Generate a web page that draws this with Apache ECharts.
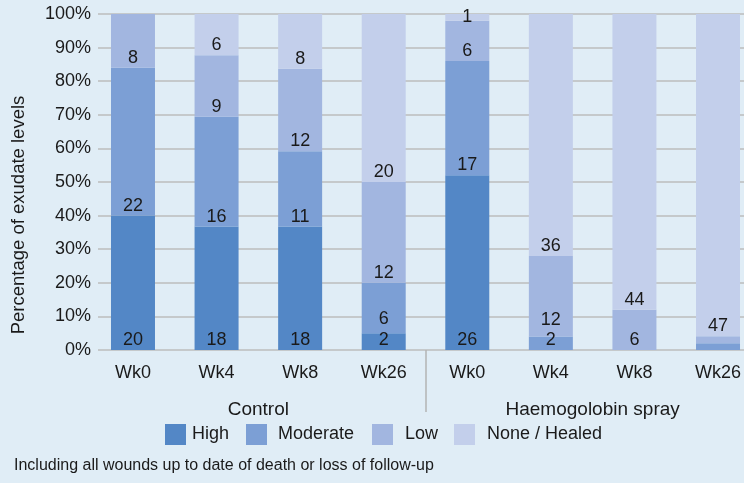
<!DOCTYPE html>
<html>
<head>
<meta charset="utf-8">
<script src="https://cdn.jsdelivr.net/npm/echarts@6/dist/echarts.min.js"></script>
<style>
  html, body { margin: 0; padding: 0; background: #e0edf6; }
  #chart { width: 744px; height: 483px; }
</style>
</head>
<body>
<div id="chart"></div>
<script>
// Visit labels along the bottom, split into two treatment groups
const categories = ['Wk0', 'Wk4', 'Wk8', 'Wk26', 'Wk0', 'Wk4', 'Wk8', 'Wk26'];
const groups = ['Control', 'Haemogolobin spray'];

// Wound counts per exudate level at each visit
const high     = [20, 18, 18, 2, 26, 0, 0, 0];
const moderate = [22, 16, 11, 6, 17, 2, 0, 1];
const low      = [8, 9, 12, 12, 6, 12, 6, 1];
const none     = [0, 6, 8, 20, 1, 36, 44, 47];

const yTicks = [0, 10, 20, 30, 40, 50, 60, 70, 80, 90, 100];

const FONT = '"Liberation Sans", Arial, sans-serif';
const INK = '#1a1a1a';
const FS = 18;

// hide: slivers left unlabelled; nudge: vertical label shifts that keep
// labels on thin segments clear of their neighbours and of the plot top
const levels = [
  { name: 'High', counts: high, color: '#5387c6', hide: [], nudge: {} },
  { name: 'Moderate', counts: moderate, color: '#7c9fd5', hide: [7], nudge: { 3: -4 } },
  { name: 'Low', counts: low, color: '#a2b6e0', hide: [7], nudge: { 5: -7 } },
  { name: 'None / Healed', counts: none, color: '#c3cfeb', hide: [], nudge: { 4: 6 } }
];

const totals = categories.map((_, i) =>
  levels.reduce((s, l) => s + l.counts[i], 0));

const series = levels.map(l => ({
  name: l.name,
  type: 'bar',
  stack: 'share',
  xAxisIndex: 1,
  yAxisIndex: 1,
  barWidth: 44,
  itemStyle: { color: l.color },
  label: {
    show: true,
    position: 'insideBottom',
    distance: 1,
    color: INK,
    fontFamily: FONT,
    fontSize: FS,
    formatter: p => (l.counts[p.dataIndex] ? String(l.counts[p.dataIndex]) : '')
  },
  data: l.counts.map((c, i) => {
    const item = { value: c / totals[i] * 100 };
    if (l.hide.includes(i)) item.label = { show: false };
    if (l.nudge[i]) item.label = { offset: [0, l.nudge[i]] };
    return item;
  })
}));

// Separator between the two groups, drawn as the middle split line of a
// hidden 0..8 slot axis that sits just under the plot.
series.push({
  type: 'line', xAxisIndex: 2, yAxisIndex: 2, data: [], silent: true
});

const legendLeft = [165, 246, 372, 454];
const legendTextPad = [1, 6, 7, 7];
const legends = levels.map((l, i) => ({
  data: [l.name],
  left: legendLeft[i],
  top: 424,
  padding: 0,
  icon: 'rect',
  itemWidth: 21,
  itemHeight: 21,
  selectedMode: false,
  textStyle: { color: INK, fontFamily: FONT, fontSize: FS, padding: [0, 0, 0, legendTextPad[i]] }
}));

// The bar area runs a little past the right edge of the canvas.
const BAR_LEFT = 91.2;
const BAR_WIDTH = 668.6;

const chart = echarts.init(document.getElementById('chart'), null, { renderer: 'canvas' });
chart.setOption({
  animation: false,
  backgroundColor: '#e0edf6',
  textStyle: { fontFamily: FONT },
  legend: legends,
  grid: [
    { left: 98, right: 0, top: 14, bottom: 133, outerBoundsMode: 'none' },
    { left: BAR_LEFT, width: BAR_WIDTH, top: 14, bottom: 133, outerBoundsMode: 'none' },
    { left: BAR_LEFT, width: BAR_WIDTH, top: 350, bottom: 71, outerBoundsMode: 'none' }
  ],
  xAxis: [
    { gridIndex: 0, type: 'value', show: false, min: 0, max: 1 },
    {
      gridIndex: 1, type: 'category', data: categories,
      axisLine: { show: false }, axisTick: { show: false },
      axisLabel: { color: INK, fontFamily: FONT, fontSize: FS, margin: 14 }
    },
    {
      gridIndex: 2, type: 'value', min: 0, max: categories.length, interval: categories.length / 2,
      axisLine: { show: false }, axisTick: { show: false }, axisLabel: { show: false },
      splitLine: {
        show: true, showMinLine: false, showMaxLine: false,
        lineStyle: { color: '#b3b3b3', width: 1.5 }
      }
    },
    {
      gridIndex: 1, type: 'category', data: groups, position: 'bottom',
      axisLine: { show: false }, axisTick: { show: false },
      axisLabel: { color: INK, fontFamily: FONT, fontSize: 19, margin: 50 }
    }
  ],
  yAxis: [
    {
      gridIndex: 0, type: 'value', min: yTicks[0], max: yTicks[yTicks.length - 1], interval: 10,
      axisLine: { show: false }, axisTick: { show: false },
      axisLabel: { color: INK, fontFamily: FONT, fontSize: FS, margin: 7, formatter: '{value}%' },
      splitLine: { lineStyle: { color: '#bdbdbd', width: 1.5 } }
    },
    { gridIndex: 1, type: 'value', min: 0, max: 100, show: false },
    { gridIndex: 2, type: 'value', min: 0, max: 1, show: false }
  ],
  graphic: [
    {
      type: 'text', x: 19, y: 215, rotation: Math.PI / 2,
      style: {
        text: 'Percentage of exudate levels', fill: INK,
        font: '18.5px "Liberation Sans", Arial, sans-serif',
        align: 'center', verticalAlign: 'middle'
      }
    },
    {
      type: 'text', left: 14, top: 458,
      style: {
        text: 'Including all wounds up to date of death or loss of follow-up',
        fill: INK, font: '16px "Liberation Sans", Arial, sans-serif'
      }
    }
  ],
  series: series
});
</script>
</body>
</html>
